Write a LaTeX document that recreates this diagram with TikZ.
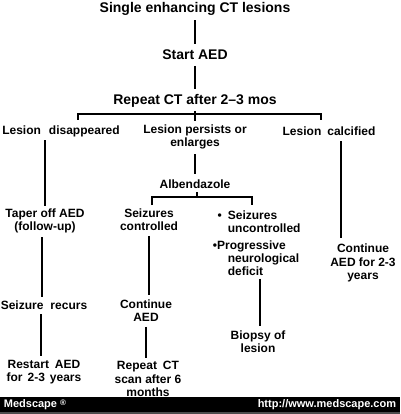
\documentclass[tikz,border=0pt]{standalone}
\usepackage{fontspec}
\setmainfont{Liberation Sans}
\begin{document}
\begin{tikzpicture}[x=1pt, y=-1pt, line width=1.8pt,
		txt/.style={font=\bfseries\fontsize{12}{13.2}\selectfont, align=center, inner sep=0pt},
		big/.style={font=\bfseries\fontsize{14}{16}\selectfont, inner sep=0pt},
		bar/.style={font=\bfseries\fontsize{11}{12}\selectfont, text=white, inner sep=0pt}]
	\useasboundingbox (0,0) rectangle (400,414);
	\fill[white] (0,0) rectangle (400,414);
	% top of the tree
	\node[big] (single) at (195,9) {Single enhancing CT lesions};
	\node[big] (start) at (195,55) {Start AED};
	\node[big] (repeat) at (195,101) {Repeat CT after 2--3 mos};
	\draw[shorten <=4pt, shorten >=5pt] (single.south) -- (start.north);
	\draw[shorten <=5pt, shorten >=5pt] (start.south) -- (repeat.north);
	% three outcomes
	\node[txt] (disap) at (61,131) {Lesion\hspace{8pt}disappeared};
	\node[txt] (persist) at (195,137) {Lesion persists or\\enlarges};
	\node[txt] (calcif) at (329,131) {Lesion\hspace{6pt}calcified};
	\coordinate (rl) at (78,114);
	\coordinate (rr) at (321,114);
	\draw ([yshift=-6pt]rl) -- (rl) -- (rr) -- ([yshift=-6pt]rr);
	\draw[shorten <=3pt] (repeat.south) -- ([yshift=-7pt]repeat.south |- rl);
	% left branch
	\node[txt] (taper) at (45,221) {Taper off AED\\(follow-up)};
	\node[txt] (recurs) at (44,305) {Seizure\hspace{7pt}recurs};
	\node[txt] (restart) at (44,372) {Restart\hspace{6pt}AED\\for\hspace{5pt}2-3\hspace{5pt}years};
	\draw[shorten <=3pt, shorten >=2pt] (taper.north |- disap.south) -- (taper.north);
	\draw[shorten <=3pt, shorten >=3pt] ([xshift=-3pt]taper.south) -- ([xshift=-3pt]taper.south |- recurs.north);
	\draw[shorten <=4pt, shorten >=3pt] ([xshift=-3pt]recurs.south) -- ([xshift=-3pt]recurs.south |- restart.north);
	% middle branch
	\node[txt] (albend) at (195,184) {Albendazole};
	\draw[shorten <=4pt, shorten >=5pt] (persist.south) -- (albend.north);
	\coordinate (al) at (152,197);
	\coordinate (ar) at (252,197);
	\draw ([yshift=-8pt]al) -- (al) -- (ar) -- ([yshift=-8pt]ar);
	\draw[shorten <=3pt] ([xshift=2pt]albend.south) -- ([xshift=2pt]albend.south |- al);
	\node[txt] (sctrl) at (149,220) {Seizures\\controlled};
	\node[txt] (contaed) at (146,311) {Continue\\AED};
	\node[txt] (rept) at (148,379) {Repeat\hspace{6pt}CT\\scan after 6\\months};
	\draw[shorten <=4pt, shorten >=4pt] (sctrl.south) -- (sctrl.south |- contaed.north);
	\draw[shorten <=4pt, shorten >=3pt] (contaed.south) -- (contaed.south |- rept.north);
	% uncontrolled branch
	\node[txt, align=left, anchor=north west] (sunc) at (227,209.5) {\llap{\textbullet\hspace{6pt}}Seizures\\uncontrolled};
	\node[txt, align=left, anchor=north west] (prog) at (212,239.5)
		{\textbullet Progressive\\\hspace*{15pt}neurological\\\hspace*{15pt}deficit};
	\node[txt] (biopsy) at (258,342) {Biopsy of\\lesion};
	\draw[shorten <=2pt, shorten >=4pt] ([xshift=2pt]biopsy.north |- prog.south) -- ([xshift=2pt]biopsy.north);
	% right branch
	\node[txt] (contyr) at (363,263) {Continue\\AED for 2-3\\years};
	\draw[shorten <=5pt, shorten >=5pt] ([xshift=12pt]calcif.south) -- ([xshift=12pt]calcif.south |- contyr.north);
	% footer
	\fill[black] (0,397) rectangle (400,412);
	\fill[black!70] (0,412) rectangle (400,414);
	\node[bar, anchor=west] (medscape) at (3,404.5) {Medscape \raisebox{2pt}{\fontsize{8}{8}\selectfont\textregistered}};
	\node[bar, anchor=east] (url) at (397,404.5) {http://www.medscape.com};
\end{tikzpicture}
\end{document}
